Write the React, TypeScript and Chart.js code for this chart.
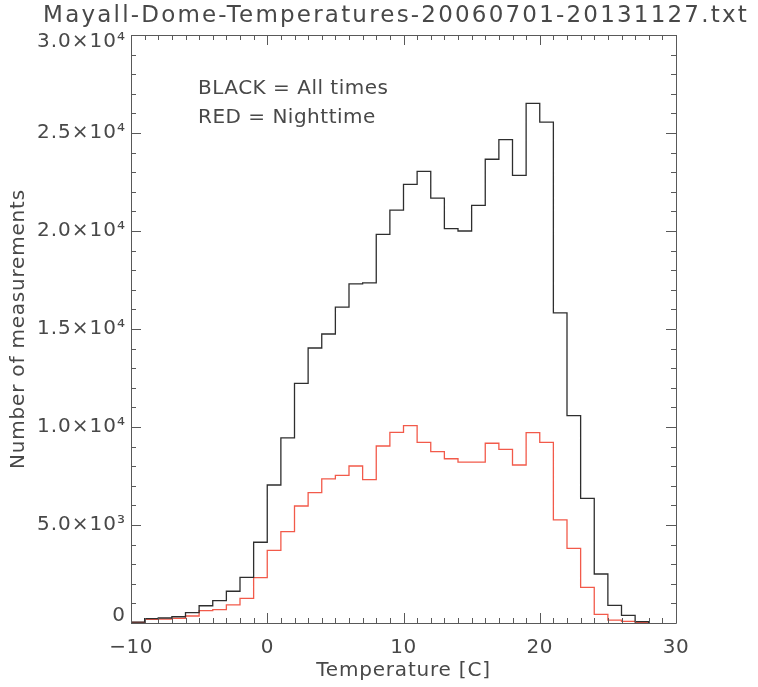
import React, { useEffect, useRef } from 'react';
import { Chart, registerables } from 'chart.js';

Chart.register(...registerables);

// Histogram bin left edges (°C), last entry closes the final bin
const binEdges = [-10, -9, -8, -7, -6, -5, -4, -3, -2, -1, 0, 1, 2, 3, 4, 5, 6, 7, 8, 9, 10, 11, 12, 13, 14, 15, 16, 17, 18, 19, 20, 21, 22, 23, 24, 25, 26, 27, 28];

// BLACK = All times
const allTimes = [40, 220, 255, 320, 525, 880, 1140, 1620, 2330, 4120, 7040, 9450, 12230, 14030, 14745, 16120, 17300, 17350, 19830, 21060, 22380, 23040, 21680, 20120, 20000, 21310, 23660, 24660, 22840, 26510, 25550, 15820, 10580, 6360, 2500, 900, 390, 70];

// RED = Nighttime
const nighttime = [30, 190, 200, 240, 357, 630, 680, 920, 1260, 2310, 3710, 4660, 5970, 6650, 7350, 7530, 8010, 7310, 9030, 9730, 10070, 9220, 8740, 8380, 8210, 8210, 9170, 8860, 8060, 9710, 9220, 5260, 3810, 1820, 440, 150, 85, 20];

const xTickValues = [-10, 0, 10, 20, 30];
const xTickLabels = ['\u221210', '0', '10', '20', '30'];
const yTickValues = [0, 5000, 10000, 15000, 20000, 25000, 30000];
const yTickLabels = ['0', '5.0\u00d710\u00b3', '1.0\u00d710\u2074', '1.5\u00d710\u2074', '2.0\u00d710\u2074', '2.5\u00d710\u2074', '3.0\u00d710\u2074'];

const titleText = 'Mayall-Dome-Temperatures-20060701-20131127.txt';
const legendLines = ['BLACK = All times', 'RED = Nighttime'];
const xTitle = 'Temperature [C]';
const yTitle = 'Number of measurements';

const X_MIN = -10, X_MAX = 30, Y_MIN = 0, Y_MAX = 30000;
const X_MINOR = 1, Y_MINOR = 1000;

function toSteps(values: number[]) {
  const pts = values.map((v, i) => ({ x: binEdges[i], y: v }));
  pts.push({ x: binEdges[values.length], y: 0 });
  return pts;
}

const FONT = '"DejaVu Sans", sans-serif';
const TEXT = '#484848';
const AXIS = '#595959';

function setSpacing(ctx: any, px: number) {
  if ('letterSpacing' in ctx) ctx.letterSpacing = `${px}px`;
}

const idlPlugin = {
  id: 'idlFrame',
  afterDraw(chart: any) {
    const { ctx, chartArea: a, scales } = chart;
    const xs = scales.x, ys = scales.y;
    ctx.save();
    ctx.strokeStyle = AXIS;
    ctx.lineWidth = 1;
    ctx.beginPath();
    ctx.rect(Math.round(a.left) + 0.5, Math.round(a.top) + 0.5, Math.round(a.right - a.left), Math.round(a.bottom - a.top));
    ctx.stroke();

    // ticks drawn inside the frame on all four sides
    ctx.beginPath();
    for (let v = X_MIN; v <= X_MAX + 1e-9; v += X_MINOR) {
      const major = xTickValues.includes(v);
      const len = major ? 10 : 5;
      const px = Math.round(xs.getPixelForValue(v)) + 0.5;
      ctx.moveTo(px, a.bottom);
      ctx.lineTo(px, a.bottom - len);
      ctx.moveTo(px, a.top);
      ctx.lineTo(px, a.top + len);
    }
    for (let v = Y_MIN; v <= Y_MAX + 1e-9; v += Y_MINOR) {
      const major = yTickValues.includes(v);
      const len = major ? 10 : 5;
      const py = Math.round(ys.getPixelForValue(v)) + 0.5;
      ctx.moveTo(a.left, py);
      ctx.lineTo(a.left + len, py);
      ctx.moveTo(a.right, py);
      ctx.lineTo(a.right - len, py);
    }
    ctx.stroke();

    ctx.fillStyle = TEXT;
    ctx.font = `20px ${FONT}`;
    setSpacing(ctx, 0.5);
    // x tick labels
    ctx.textAlign = 'center';
    ctx.textBaseline = 'middle';
    xTickValues.forEach((v, i) => {
      ctx.fillText(xTickLabels[i], xs.getPixelForValue(v), a.bottom + 25);
    });
    // y tick labels
    ctx.textAlign = 'right';
    setSpacing(ctx, 1);
    yTickValues.forEach((v, i) => {
      let py = ys.getPixelForValue(v);
      if (i === 0) py -= 7;
      if (i === yTickValues.length - 1) py += 7;
      ctx.fillText(yTickLabels[i], a.left - 5, py);
    });

    // axis titles
    setSpacing(ctx, 0.8);
    ctx.textAlign = 'center';
    ctx.fillText(xTitle, (a.left + a.right) / 2, a.bottom + 48);
    ctx.save();
    ctx.translate(19, (a.top + a.bottom) / 2);
    ctx.rotate(-Math.PI / 2);
    ctx.fillText(yTitle, 0, 0);
    ctx.restore();

    // title
    ctx.font = `23px ${FONT}`;
    setSpacing(ctx, 2.2);
    ctx.textBaseline = 'alphabetic';
    ctx.fillText(titleText, 396, 22);

    // legend text
    ctx.textAlign = 'left';
    ctx.font = `20px ${FONT}`;
    setSpacing(ctx, 0.5);
    ctx.fillText(legendLines[0], 198, 94);
    ctx.fillText(legendLines[1], 198, 123);
    ctx.restore();
  },
};

export default function App() {
  const ref = useRef<HTMLCanvasElement | null>(null);
  useEffect(() => {
    if (!ref.current) return;
    const chart = new Chart(ref.current, {
      type: 'line',
      data: {
        datasets: [
          {
            label: 'All times',
            data: toSteps(allTimes),
            borderColor: '#2e2e2e',
            borderWidth: 1.3,
            stepped: 'before',
            pointRadius: 0,
            fill: false,
          },
          {
            label: 'Nighttime',
            data: toSteps(nighttime),
            borderColor: '#f25a4a',
            borderWidth: 1.3,
            stepped: 'before',
            pointRadius: 0,
            fill: false,
          },
        ],
      },
      options: {
        animation: false,
        responsive: false,
        maintainAspectRatio: false,
        layout: { padding: { left: 131, right: 82, top: 35, bottom: 64 } },
        plugins: { legend: { display: false }, tooltip: { enabled: false }, title: { display: false } },
        scales: {
          x: { type: 'linear', min: X_MIN, max: X_MAX, display: false },
          y: { type: 'linear', min: Y_MIN, max: Y_MAX, display: false },
        },
      },
      plugins: [idlPlugin],
    });
    return () => chart.destroy();
  }, []);
  return (
    <div style={{ position: 'absolute', left: 0, top: 0, width: 758, height: 687, background: '#fff' }}>
      <canvas ref={ref} width={758} height={687} style={{ width: 758, height: 687 }} />
    </div>
  );
}
